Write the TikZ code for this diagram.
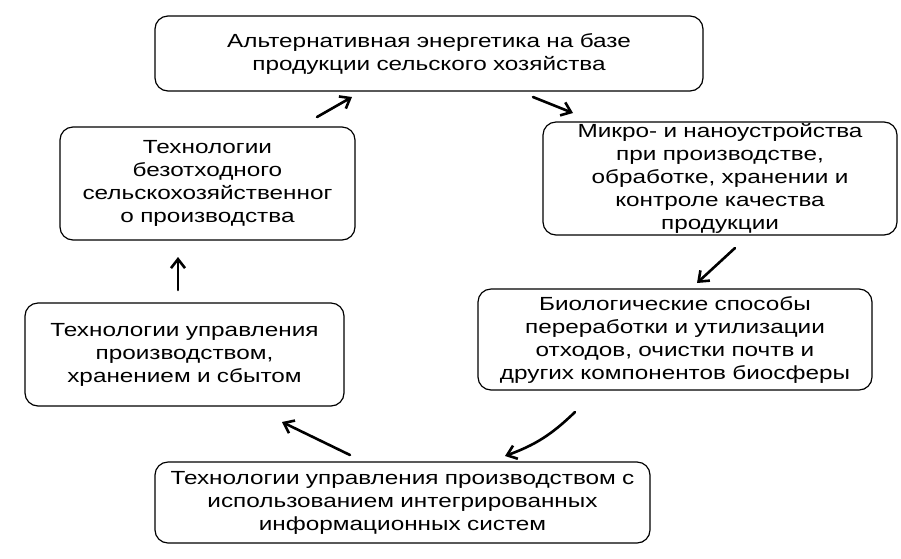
\documentclass[tikz,border=0pt]{standalone}
\usepackage{fontspec}
\setmainfont[FakeStretch=1.28]{Liberation Sans}
\usetikzlibrary{arrows.meta}

\begin{document}
\begin{tikzpicture}[x=1pt,y=-1pt,
  block/.style={draw=black,line width=1.2pt,rounded corners=13pt,fill=white,inner sep=0pt,align=center,
    font=\fontsize{19}{23}\selectfont},
  arrow/.style={-{Straight Barb[length=9pt,width=14pt]},line width=2.6pt,line cap=round}
]
\useasboundingbox (0,0) rectangle (901,558);

\node[block,text width=548pt,minimum height=75pt] (energy) at (429,53.5)
  {Альтернативная энергетика на базе\\продукции сельского хозяйства};
\node[block,text width=354pt,minimum height=113pt] (micro) at (720,178.5)
  {Микро- и наноустройства\\при производстве,\\обработке, хранении и\\контроле качества\\продукции};
\node[block,text width=394pt,minimum height=101pt] (bio) at (675,339.5)
  {Биологические способы\\переработки и утилизации\\отходов, очистки почтв и\\других компонентов биосферы};
\node[block,text width=495pt,minimum height=81pt] (info) at (402.5,502.5)
  {Технологии управления производством с\\использованием интегрированных\\информационных систем};
\node[block,text width=319pt,minimum height=103pt] (manage) at (184.5,354.5)
  {Технологии управления\\производством,\\хранением и сбытом};
\node[block,text width=295pt,minimum height=113pt] (waste) at (207.5,183.5)
  {Технологии\\безотходного\\сельскохозяйственног\\о производства};

% arrow ends
\coordinate (a1s) at (317,117); \coordinate (a1e) at (352,97);
\coordinate (a2s) at (533,97);  \coordinate (a2e) at (573,113);
\coordinate (a3s) at (735,248); \coordinate (a3e) at (697,283);
\coordinate (a4s) at (575,412); \coordinate (a4e) at (505,456);
\coordinate (a5s) at (350,455); \coordinate (a5e) at (282,422);
\coordinate (a6s) at (178,290); \coordinate (a6e) at (178,257);

\draw[arrow] (a1s) -- (a1e);
\draw[arrow] (a2s) -- (a2e);
\draw[arrow] (a3s) -- (a3e);
\draw[arrow] (a4s) to[bend left=12] (a4e);
\draw[arrow] (a5s) -- (a5e);
\draw[arrow] (a6s) -- (a6e);
\end{tikzpicture}
\end{document}
